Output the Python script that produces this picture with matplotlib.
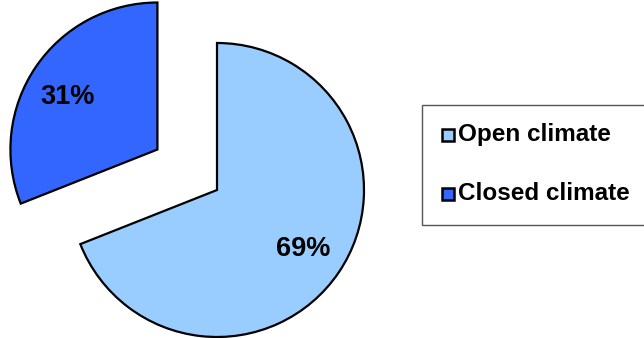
import matplotlib
matplotlib.use('Agg')
import matplotlib.pyplot as plt
from matplotlib.patches import Rectangle

labels = ['Open climate', 'Closed climate']
shares = [69, 31]
colors = ['#99CCFF', '#3366FF']

plt.rcParams['font.family'] = ['Liberation Sans', 'DejaVu Sans']

W, H = 644, 338
R = 147
fig = plt.figure(figsize=(W / 100, H / 100), dpi=100)
ax = fig.add_axes([0, 0, 1, 1])

# explode is in data units here (pixels), pull the small slice out
wedges, texts, autotexts = ax.pie(
    shares, colors=colors, startangle=90, counterclock=False,
    explode=[0, 0.49 * R], radius=R, center=(217, H - 190),
    autopct='%d%%', pctdistance=0.71,
    wedgeprops=dict(edgecolor='black', linewidth=1.6))
for t in autotexts:
    t.set_fontsize(19.5)
    t.set_fontweight('bold')
# nudge the small slice's label a bit down-left
px, py = autotexts[1].get_position()
autotexts[1].set_position((px - 4, py - 6))

ax.set_xlim(0, W)
ax.set_ylim(0, H)
ax.set_aspect('equal')
ax.axis('off')

# legend box, drawn in pixel coordinates
ax.add_patch(Rectangle((422, H - 225), 240, 120, facecolor='white',
                       edgecolor='#555555', linewidth=1.0, clip_on=False))
for i, (lab, col) in enumerate(zip(labels, colors)):
    yc = H - (135 + 59 * i)
    ax.add_patch(Rectangle((442, yc - 6), 12, 12, facecolor=col,
                           edgecolor='black', linewidth=1.8))
    ax.text(458, yc, lab, fontsize=17.5, fontweight='bold',
            ha='left', va='center')

fig.savefig('out.png', dpi=100)
